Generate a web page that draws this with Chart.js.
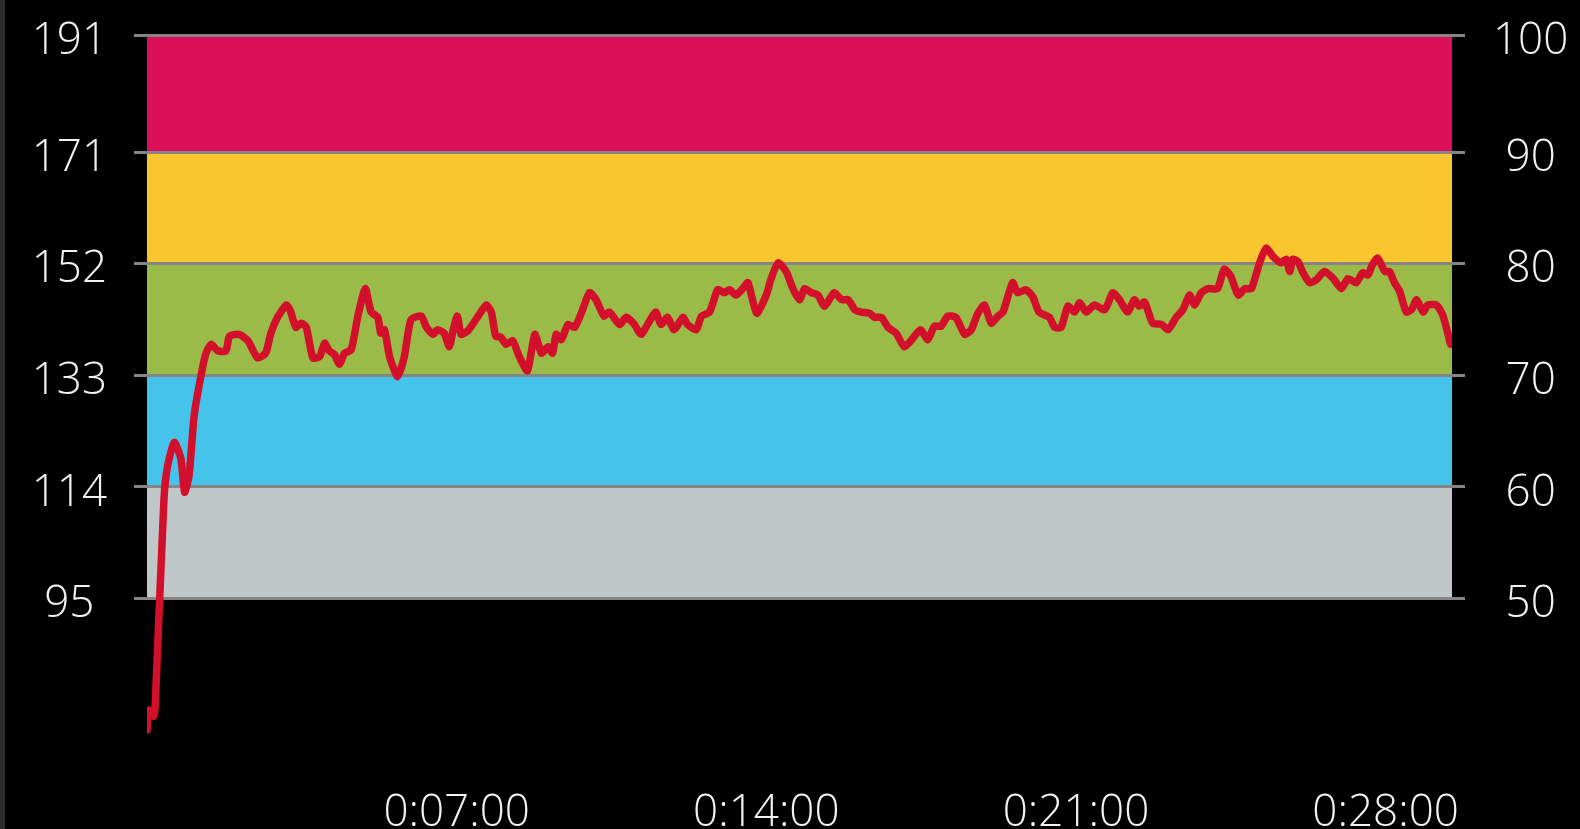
<!DOCTYPE html>
<html>
<head>
<meta charset="utf-8">
<script src="https://cdn.jsdelivr.net/npm/chart.js@4.4.1/dist/chart.umd.min.js"></script>
<style>
  html, body { margin: 0; padding: 0; background: #000; overflow: hidden; }
  .wrap { position: relative; width: 1580px; height: 829px; }
  .edge { position: absolute; left: 0; top: 0; width: 5px; height: 829px; background: #2c2c2c; }
  canvas { display: block; }
</style>
</head>
<body>
<div class="wrap">
  <canvas id="hrChart" width="1580" height="829"></canvas>
  <div class="edge"></div>
</div>
<script>
// heart rate in bpm against elapsed seconds
const hrSeconds = [0,2,9,11,23,28,37,46,51,57,64,73,80,87,96,107,112,125,137,150,161,168,177,189,194,202,209,216,225,234,241,247,254,261,268,277,286,296,304,313,317,322,329,340,349,358,372,379,388,394,403,410,415,421,426,435,446,460,467,473,480,487,496,505,516,526,535,544,550,555,562,571,580,589,600,609,620,627,641,650,661,670,679,690,697,706,715,727,733,745,752,763,774,783,790,799,808,815,827,840,846,856,867,876,885,892,901,910,919,932,942,951,960,969,980,987,996,1005,1016,1027,1036,1049,1059,1068,1077,1086,1097,1109,1118,1127,1136,1145,1154,1161,1174,1181,1192,1201,1210,1224,1231,1240,1249,1258,1265,1274,1285,1299,1310,1319,1330,1339,1346,1353,1364,1376,1385,1396,1405,1414,1421,1430,1439,1452,1461,1470,1480,1489,1498,1509,1518,1527,1538,1545,1550,1554,1561,1568,1577,1586,1597,1609,1620,1629,1640,1649,1656,1661,1669,1679,1685,1692,1699,1708,1715,1722,1731,1737,1749,1758,1768];
const hrBpm = [72.6,76.0,74.9,76.4,111.9,117.6,121.6,118.8,113.1,115.9,126.2,132.8,136.8,138.3,137.2,137.2,139.7,140.0,138.9,136.0,136.8,140.2,142.9,145.0,144.2,141.2,141.9,141.2,136.0,136.2,138.5,137.2,136.6,134.9,136.8,137.4,143.1,147.8,143.8,142.9,140.2,140.8,136.2,132.8,136.2,142.5,143.1,141.2,140.0,140.8,140.2,137.9,140.6,143.1,140.0,140.6,142.5,145.0,143.8,139.7,139.5,138.3,138.9,136.2,133.8,140.0,136.8,137.9,136.8,140.0,139.1,141.7,141.2,143.6,147.1,145.9,143.1,143.8,141.7,142.9,141.7,140.0,141.7,143.8,141.7,142.9,140.8,142.9,141.7,140.8,143.1,143.8,147.6,147.1,147.6,146.7,147.8,148.8,143.6,146.7,149.3,152.2,150.7,147.8,145.9,147.8,147.1,146.7,144.8,147.1,145.9,145.9,144.2,143.8,143.6,142.9,142.9,141.2,140.2,137.9,138.9,140.8,139.1,141.4,141.4,143.1,142.9,140.0,140.8,143.6,145.0,141.9,143.1,143.8,148.8,147.1,147.6,146.5,143.8,142.9,141.2,141.2,144.8,143.8,145.4,143.8,145.0,144.2,147.1,145.9,143.8,145.9,144.8,145.5,141.9,141.7,140.8,142.9,144.2,146.7,145.0,147.1,147.8,147.8,151.1,149.9,146.7,147.8,147.8,152.2,154.7,153.3,152.2,152.8,150.7,152.8,152.4,150.5,148.8,149.3,150.7,149.5,147.8,149.5,148.8,150.5,150.1,151.6,153.0,150.7,150.7,148.8,147.3,143.8,144.2,145.9,143.8,145.0,145.0,143.1,138.3];

// zone bounds in bpm (left labels) and the % of max HR shown on the right
const bpmTicks = [95, 114, 133, 152, 171, 191];
const pctTicks = [50, 60, 70, 80, 90, 100];
const zoneColors = ['#c0c7c8', '#46c3ea', '#9bbb48', '#fac62f', '#dc1058'];

const xTickSeconds = [420, 840, 1260, 1680];
const durationSec = 1770;
const yMin = 68;
const yMax = 191;

function fmtTime(s) {
  const h = Math.floor(s / 3600);
  const m = Math.floor((s % 3600) / 60);
  const sec = Math.round(s % 60);
  return h + ':' + String(m).padStart(2, '0') + ':' + String(sec).padStart(2, '0');
}

const zoneSets = zoneColors.map((c, i) => ({
  data: [{ x: 0, y: bpmTicks[i + 1] }, { x: durationSec, y: bpmTicks[i + 1] }],
  backgroundColor: c,
  borderWidth: 0,
  pointRadius: 0,
  fill: { value: bpmTicks[i] },
  yAxisID: 'y',
}));

const hrSet = {
  data: hrSeconds.map((s, i) => ({ x: s, y: hrBpm[i] })),
  borderColor: '#d3102b',
  borderWidth: 7.5,
  borderJoinStyle: 'round',
  borderCapStyle: 'round',
  pointRadius: 0,
  tension: 0.2,
  fill: false,
  yAxisID: 'y',
};

const xFont = { family: "'Open Sans', sans-serif", size: 44, weight: 300 };
// small line height + leading empty line nudges the y labels a few px below their gridline
const yFont = { family: "'Open Sans', sans-serif", size: 44, weight: 300, lineHeight: '12px' };
const gridGray = '#858585';

// fixed axis widths, and no automatic label padding above/below the plot
const fitY = w => s => { s.width = w; s.paddingTop = 0; s.paddingBottom = 0; };
const setTicks = s => { s.ticks = bpmTicks.map(v => ({ value: v })); };

new Chart(document.getElementById('hrChart'), {
  type: 'line',
  data: { datasets: [...zoneSets, hrSet] },
  options: {
    responsive: false,
    animation: false,
    layout: { padding: { top: 35, left: 0, right: 0, bottom: 0 } },
    plugins: {
      legend: { display: false },
      tooltip: { enabled: false },
      filler: { drawTime: 'beforeDraw' },
    },
    scales: {
      x: {
        type: 'linear',
        min: 0,
        max: durationSec,
        afterBuildTicks: s => { s.ticks = xTickSeconds.map(v => ({ value: v })); },
        afterFit: s => { s.height = 72; s.paddingLeft = 0; s.paddingRight = 0; },
        grid: { display: false },
        border: { display: false },
        ticks: { color: '#f2f2f2', font: xFont, padding: 22, maxRotation: 0, callback: v => fmtTime(v) },
      },
      y: {
        position: 'right',
        min: yMin,
        max: yMax,
        afterBuildTicks: setTicks,
        afterFit: fitY(128),
        grid: { color: gridGray, lineWidth: 3, drawTicks: true, tickLength: 13 },
        border: { display: false },
        ticks: {
          color: '#f2f2f2', font: yFont, padding: 28, crossAlign: 'center',
          callback: v => ['', String(pctTicks[bpmTicks.indexOf(v)])],
        },
      },
      yL: {
        position: 'left',
        min: yMin,
        max: yMax,
        afterBuildTicks: setTicks,
        afterFit: fitY(147),
        grid: { color: gridGray, lineWidth: 3, drawOnChartArea: false, drawTicks: true, tickLength: 13 },
        border: { display: false },
        ticks: {
          color: '#f2f2f2', font: yFont, padding: 27, crossAlign: 'center',
          callback: v => ['', String(v)],
        },
      },
    },
  },
});
</script>
</body>
</html>
